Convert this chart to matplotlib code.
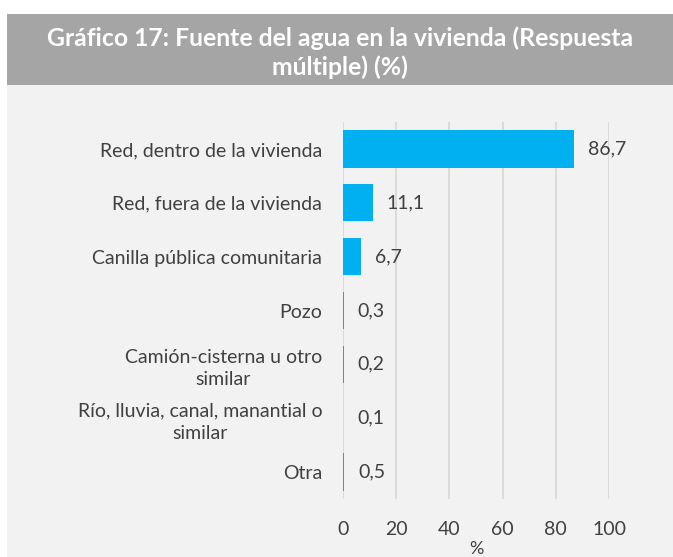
import matplotlib
matplotlib.use("Agg")
import matplotlib.pyplot as plt
from matplotlib.patches import Rectangle
from matplotlib.transforms import offset_copy

categories = ["Red, dentro de la vivienda", "Red, fuera de la vivienda",
              "Canilla pública comunitaria", "Pozo",
              "Camión-cisterna u otro\nsimilar",
              "Río, lluvia, canal, manantial o\nsimilar", "Otra"]
values = [86.7, 11.1, 6.7, 0.3, 0.2, 0.1, 0.5]
value_labels = ["86,7", "11,1", "6,7", "0,3", "0,2", "0,1", "0,5"]
xticks = [0, 20, 40, 60, 80, 100]
title = "Gráfico 17: Fuente del agua en la vivienda (Respuesta\nmúltiple) (%)"

plt.rcParams['font.family'] = ['Lato', 'DejaVu Sans']
W, H = 673, 557
fig = plt.figure(figsize=(W/100, H/100), dpi=100)
fig.patch.set_facecolor('white')

# background panels
fig.patches.append(Rectangle((7/W, 0), 1 - 7/W, 1 - 85/H, transform=fig.transFigure,
                             facecolor='#f2f2f2', edgecolor='none', zorder=-2))
fig.patches.append(Rectangle((7/W, 1 - 85/H), 1 - 7/W, 71/H, transform=fig.transFigure,
                             facecolor='#a5a5a5', edgecolor='none', zorder=-2))
fig.text((7 + 673) / 2 / W, 1 - 53/H, title, ha='center', va='center', color='white',
         fontsize=17.8, fontweight='bold', linespacing=1.28)

ax = fig.add_axes([343/W, 1 - 499/H, 266/W, 377/H])
ax.set_zorder(2)
ax.set_facecolor('none')
y = list(range(len(categories)))
ax.barh(y, values, height=0.69, color='#00b0f0', linewidth=0, zorder=3)
ax.set_xlim(0, 100)
ax.set_ylim(len(categories) - 0.5, -0.5)
ax.set_xticks(xticks)
ax.set_xticklabels([str(t) for t in xticks])
ax.set_yticks(y)
ax.set_yticklabels(categories, ha='right', multialignment='center', linespacing=1.35)
ax.tick_params(axis='both', length=0, colors='#404040', labelsize=14)
ax.tick_params(axis='x', pad=16)
ax.tick_params(axis='y', pad=15)
for lab in ax.get_yticklabels():
    lab.set_color('#404040')
ax.grid(axis='x', color='#d9d9d9', linewidth=1.3, zorder=0)
for s in ax.spines.values():
    s.set_visible(False)

trans = offset_copy(ax.transData, fig=fig, x=14, y=0, units='dots')
for yi, v, lab in zip(y, values, value_labels):
    ax.text(v, yi, lab, transform=trans, ha='left', va='center', fontsize=14, color='#404040')

ax.set_xlabel('%', color='#404040', fontsize=13, labelpad=2)

fig.savefig('out.png', dpi=100, facecolor=fig.get_facecolor())
